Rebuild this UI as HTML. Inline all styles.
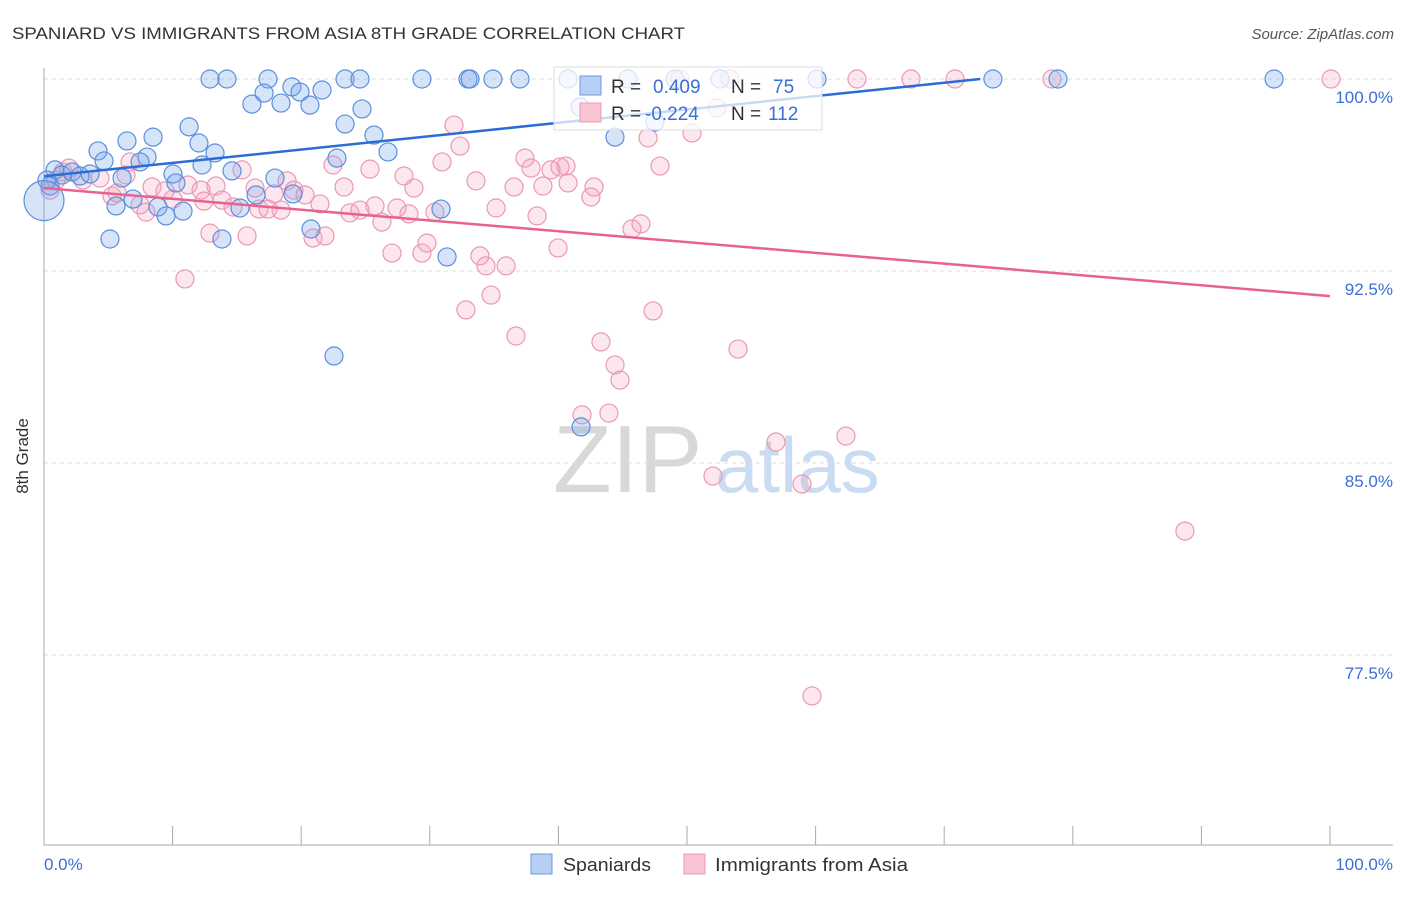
<!DOCTYPE html>
<html><head><meta charset="utf-8"><style>
body{margin:0;background:#fff;font-family:"Liberation Sans",sans-serif}
svg text{font-family:"Liberation Sans",sans-serif}
</style></head><body>
<svg width="1406" height="892" viewBox="0 0 1406 892">
<text x="12" y="39" font-size="17" fill="#333" textLength="673" lengthAdjust="spacingAndGlyphs">SPANIARD VS IMMIGRANTS FROM ASIA 8TH GRADE CORRELATION CHART</text>
<text x="1394" y="39" font-size="15" fill="#555" font-style="italic" text-anchor="end">Source: ZipAtlas.com</text>
<g>
<text x="553" y="492" font-size="96" font-family="Liberation Serif" fill="#d8d8d8">ZIP</text>
<text x="715" y="492" font-size="78" fill="#c9dcf2">atlas</text>
</g>
<g id="grid"></g>
<line x1="44" y1="68" x2="44" y2="845" stroke="#aaa"/>
<line x1="44" y1="845" x2="1393" y2="845" stroke="#aaa"/>
<g id="xticks"></g>
<text x="28" y="456" font-size="17" fill="#333" transform="rotate(-90 28 456)" text-anchor="middle">8th Grade</text>
<text x="44" y="870" font-size="17" fill="#3b6fd4">0.0%</text>
<text x="1393" y="870" font-size="17" fill="#3b6fd4" text-anchor="end">100.0%</text>
<g id="pink"></g><g id="blue"></g><g id="lines"></g>
<g>
<rect x="554" y="67" width="268" height="63" fill="#fff" fill-opacity="0.75" stroke="#ddd"/>
<rect x="580" y="76" width="21" height="19" fill="#b5cff5" stroke="#6d9be0"/>
<rect x="580" y="103" width="21" height="19" fill="#f8c3d3" stroke="#eb98b3"/>
<text x="611" y="93" font-size="19" fill="#333">R =</text>
<text x="653" y="93" font-size="19" fill="#3b6fd4">0.409</text>
<text x="731" y="93" font-size="19" fill="#333">N =</text>
<text x="773" y="93" font-size="19" fill="#3b6fd4">75</text>
<text x="611" y="120" font-size="19" fill="#333">R =</text>
<text x="645" y="120" font-size="19" fill="#3b6fd4">-0.224</text>
<text x="731" y="120" font-size="19" fill="#333">N =</text>
<text x="768" y="120" font-size="19" fill="#3b6fd4">112</text>
</g>
<g>
<rect x="531" y="854" width="21" height="20" fill="#b5cff5" stroke="#6d9be0"/>
<text x="563" y="871" font-size="18" fill="#333" textLength="88" lengthAdjust="spacingAndGlyphs">Spaniards</text>
<text x="715" y="871" font-size="18" fill="#333" textLength="193" lengthAdjust="spacingAndGlyphs">Immigrants from Asia</text>
<rect x="684" y="854" width="21" height="20" fill="#f8c3d3" stroke="#eb98b3"/>
</g>
</svg>
<script>
const yTicks=[100,92.5,85,77.5];
const yTickLabels=["100.0%","92.5%","85.0%","77.5%"];
const xTicks=[0,10,20,30,40,50,60,70,80,90,100];
const bluePx=[[210,79],[227,79],[268,79],[345,79],[360,79],[422,79],[468,79],[470,79],[493,79],[520,79],[568,79],[628,79],[675,79],[720,79],[817,79],[993,79],[1058,79],[1274,79],[292,87],[300,92],[264,93],[322,90],[252,104],[281,103],[310,105],[362,109],[345,124],[374,135],[388,152],[189,127],[127,141],[153,137],[199,143],[98,151],[147,157],[104,161],[140,162],[215,153],[173,174],[202,165],[232,171],[55,170],[62,175],[72,172],[80,176],[90,174],[50,186],[47,180],[122,178],[176,183],[133,199],[116,206],[158,207],[166,216],[183,211],[240,208],[256,195],[275,178],[293,194],[337,158],[441,209],[311,229],[110,239],[222,239],[447,257],[334,356],[581,427],[615,137],[655,122],[580,107]];
const pinkPx=[[1331,79],[1052,79],[955,79],[911,79],[857,79],[730,79],[680,79],[717,108],[454,125],[460,146],[648,138],[692,133],[660,166],[525,158],[560,167],[566,166],[531,168],[551,170],[476,181],[514,187],[543,186],[568,183],[594,187],[591,197],[496,208],[537,216],[632,229],[641,224],[404,176],[414,188],[442,162],[344,187],[370,169],[333,165],[242,170],[130,162],[69,168],[63,172],[83,180],[100,178],[126,175],[152,187],[165,191],[188,185],[201,190],[216,186],[255,188],[274,194],[287,181],[294,190],[305,195],[320,204],[350,213],[360,210],[375,206],[382,222],[397,208],[409,214],[435,212],[259,209],[268,209],[281,210],[233,207],[222,200],[204,201],[173,199],[146,212],[117,193],[112,196],[210,233],[247,236],[313,238],[325,236],[392,253],[422,253],[427,243],[480,256],[486,266],[506,266],[558,248],[185,279],[466,310],[491,295],[516,336],[601,342],[615,365],[620,380],[653,311],[738,349],[582,415],[609,413],[776,442],[846,436],[713,476],[802,484],[812,696],[1185,531],[50,190],[56,180],[140,205]];
const blueX=bluePx.map(p=>+((p[0]-44)/12.86).toFixed(2));
const blueY=bluePx.map(p=>+(100-(p[1]-79)/25.6).toFixed(2));
const pinkX=pinkPx.map(p=>+((p[0]-44)/12.86).toFixed(2));
const pinkY=pinkPx.map(p=>+(100-(p[1]-79)/25.6).toFixed(2));
const blueTrend=[[0,96.2],[72.8,100]];
const pinkTrend=[[0,95.74],[100,91.52]];
const X=v=>44+v*12.86, Y=v=>79+(100-v)*25.6;
const NS="http://www.w3.org/2000/svg";
function mk(t,a,p){const e=document.createElementNS(NS,t);for(const k in a)e.setAttribute(k,a[k]);document.getElementById(p).appendChild(e);return e;}
yTicks.forEach((v,i)=>{
 const l=mk('line',{x1:44,x2:1393,y1:Y(v),y2:Y(v),stroke:'#ddd','stroke-dasharray':'4,4'},'grid');
 
 
 const t=mk('text',{x:1393,y:Y(v)+24,'font-size':17,fill:'#3b6fd4','text-anchor':'end'},'grid');
 t.textContent=yTickLabels[i];
 
 
});
xTicks.forEach(v=>{
 const l=mk('line',{x1:X(v),x2:X(v),y1:826,y2:845,stroke:'#aaa'},'xticks');
 
 
});
pinkX.forEach((x,i)=>{
 const c=mk('circle',{cx:X(x),cy:Y(pinkY[i]),r:9,fill:'rgba(244,160,188,0.25)',stroke:'#eb98b3','stroke-width':1.2},'pink');
 
 
});
blueX.forEach((x,i)=>{
 const c=mk('circle',{cx:X(x),cy:Y(blueY[i]),r:9,fill:'rgba(120,165,235,0.3)',stroke:'#5a8fdc','stroke-width':1.2},'blue');
 
 
});
const big=mk('circle',{cx:X(0),cy:Y(95.25),r:20,fill:'rgba(120,165,235,0.3)',stroke:'#5a8fdc','stroke-width':1.2},'blue');


const bl=mk('line',{x1:X(blueTrend[0][0]),y1:Y(blueTrend[0][1]),x2:X(blueTrend[1][0]),y2:Y(blueTrend[1][1]),stroke:'#2a6dd6','stroke-width':2.5},'lines');


const pl=mk('line',{x1:X(pinkTrend[0][0]),y1:Y(pinkTrend[0][1]),x2:X(pinkTrend[1][0]),y2:Y(pinkTrend[1][1]),stroke:'#e8628f','stroke-width':2.5},'lines');


</script>
</body></html>
